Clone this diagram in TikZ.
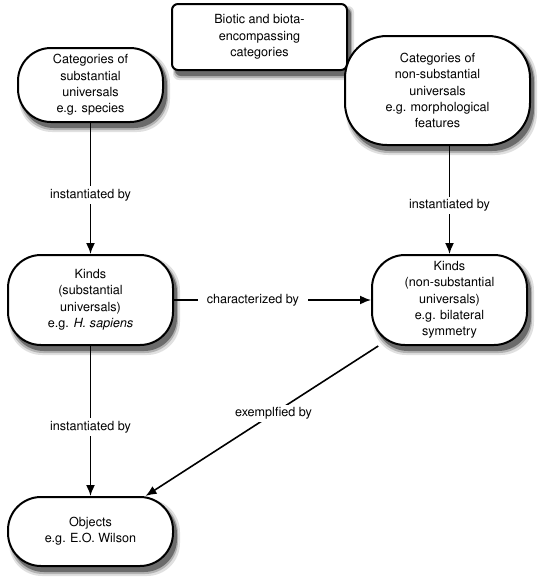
\documentclass[tikz,border=0pt]{standalone}
\usepackage[T1]{fontenc}
\usepackage{helvet}
\renewcommand{\familydefault}{\sfdefault}
\usepackage{tikz}
\usetikzlibrary{arrows.meta}

\definecolor{shadelight}{rgb}{0.88,0.88,0.88}
\definecolor{shademid}{rgb}{0.70,0.70,0.70}
\definecolor{shadedark}{rgb}{0.42,0.42,0.42}

% soft grey shadow for a box: centre x, centre y, width, height, corner radius
\newcommand{\boxshade}[5]{%
  \begin{scope}[shift={(#1,#2)}]
  \fill[shadelight, rounded corners=#5] (-#3/2+1, -#4/2+2) rectangle (#3/2+7, #4/2+10);
  \fill[shademid, rounded corners=#5] (-#3/2+2, -#4/2+3) rectangle (#3/2+5, #4/2+8);
  \fill[shadedark, rounded corners=#5] (-#3/2+3, -#4/2+4) rectangle (#3/2+4, #4/2+6);
  \end{scope}}

\begin{document}
\begin{tikzpicture}[x=1pt, y=-1pt,
  font=\fontsize{12.6}{16.3}\selectfont,
  concept/.style={draw, line width=2pt, fill=white, rounded corners=33pt,
    align=center, inner sep=0pt},
  heading/.style={concept, rounded corners=6pt},
  link/.style={line width=1.6pt, -{Latex[length=11pt, width=9pt]}},
  linklabel/.style={fill=white, inner xsep=9pt, inner ysep=3pt}]
\useasboundingbox (0,0) rectangle (546,579);
% shadows first
\boxshade{259.5}{37}{175}{66}{6pt}
\boxshade{90.5}{85}{145}{74}{33pt}
\boxshade{437.5}{90.5}{185}{109}{42pt}
\boxshade{90.5}{300}{165}{90}{33pt}
\boxshade{449.5}{300}{155}{90}{33pt}
\boxshade{90.5}{531.5}{165}{69}{33pt}

\node[heading, minimum width=175pt, minimum height=66pt] (biota) at (259.5, 37)
  {Biotic and biota-\\encompassing\\categories};
\node[concept, minimum width=145pt, minimum height=74pt] (catsub) at (90.5, 85)
  {Categories of\\substantial\\universals\\e.g. species};
\node[concept, rounded corners=42pt, minimum width=185pt, minimum height=109pt] (catnonsub) at (437.5, 90.5)
  {Categories of\\non-substantial\\universals\\e.g. morphological\\features};
\node[concept, minimum width=165pt, minimum height=90pt] (kindsub) at (90.5, 300)
  {Kinds\\(substantial\\universals)\\e.g. \textit{H. sapiens}};
\node[concept, minimum width=155pt, minimum height=90pt] (kindnonsub) at (449.5, 300)
  {Kinds\\(non-substantial\\universals)\\e.g. bilateral\\symmetry};
\node[concept, minimum width=165pt, minimum height=69pt] (objects) at (90.5, 531.5)
  {Objects\\e.g. E.O. Wilson};

\draw[link] (catsub) -- node[linklabel, pos=0.55] {instantiated by} (kindsub);
\draw[link] (catnonsub.south -| kindnonsub.north) -- node[linklabel, pos=0.55] {instantiated by} (kindnonsub.north);
\draw[link] (kindsub) -- node[linklabel, pos=0.4] {characterized by} (kindnonsub);
\draw[link] (kindsub) -- node[linklabel, pos=0.54] {instantiated by} (objects);
\draw[link] (kindnonsub) -- node[linklabel, pos=0.45] {exemplfied by} (objects);
\end{tikzpicture}
\end{document}
